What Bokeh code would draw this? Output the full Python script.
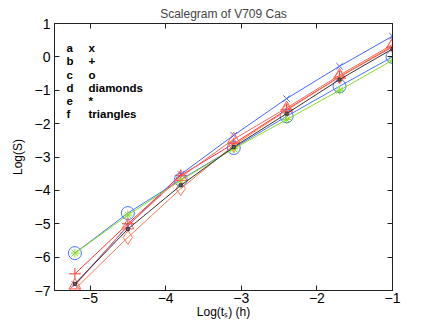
from bokeh.plotting import figure
from bokeh.models import LinearAxis, Range1d, FixedTicker, Title
from bokeh.core.properties import value
from bokeh.embed import file_html
from bokeh.resources import INLINE

log_ts = [-5.2, -4.5, -3.8, -3.1, -2.4, -1.7, -1.0]

s_a = [-6.82, -5.07, -3.52, -2.35, -1.25, -0.28, 0.62]   # x, blue
s_b = [-6.50, -5.00, -3.55, -2.60, -1.58, -0.60, 0.30]   # +, red
s_c = [-5.88, -4.68, -3.68, -2.73, -1.78, -0.88, 0.00]   # o, blue
s_d = [-6.96, -5.41, -3.95, -2.65, -1.60, -0.60, 0.33]   # diamonds, salmon
s_e = [-5.88, -4.74, -3.70, -2.75, -1.88, -1.00, -0.10]  # *, green
s_f = [-6.85, -5.05, -3.60, -2.47, -1.53, -0.55, 0.37]   # triangles, salmon
s_k = [-6.80, -5.16, -3.85, -2.70, -1.70, -0.68, 0.24]   # black

key_letters = ["a", "b", "c", "d", "e", "f"]
key_markers = ["x", "+", "o", "diamonds", "*", "triangles"]
key_x1 = [-5.31] * 6
key_x2 = [-5.02] * 6
key_y = [0.27, -0.13, -0.55, -0.94, -1.31, -1.72]

FONT = "Liberation Sans"

p = figure(frame_width=338, frame_height=267, output_backend="svg",
           toolbar_location=None,
           x_range=Range1d(-5.47, -1.0), y_range=Range1d(-7, 1),
           min_border_left=54, min_border_right=33, min_border_top=23,
           min_border_bottom=27)
p.title = Title(text="Scalegram of V709 Cas", align="center", text_font=FONT,
                text_font_size="12px", text_font_style="normal", standoff=6,
                offset=0)
p.grid.visible = False
p.outline_line_color = "#222222"
p.background_fill_color = "white"
p.border_fill_color = "white"

series = [
    (s_a, "#4466ff", "x", 9, None),
    (s_b, "#ff3333", "cross", 12, None),
    (s_c, "#4477ff", "circle", 13, None),
    (s_d, "#ff7755", "diamond", 14, None),
    (s_e, "#88dd22", "asterisk", 9, None),
    (s_f, "#ff6655", "triangle", 12, None),
    (s_k, "#333333", "square", 3, "#666666"),
]
for ys, col, mk, sz, fill in series:
    p.line(log_ts, ys, line_color=col, line_width=1)
    p.scatter(log_ts, ys, marker=mk, size=sz, line_color=col,
              fill_color=fill, fill_alpha=1.0 if fill else 0.0, line_width=1)

p.text(key_x1, key_y, text=key_letters, text_font=value(FONT),
       text_font_size="11.5px", text_font_style="bold", text_baseline="middle",
       text_color="black")
p.text(key_x2, key_y, text=key_markers, text_font=value(FONT),
       text_font_size="11.5px", text_font_style="bold", text_baseline="middle",
       text_color="black")

xt = FixedTicker(ticks=[-5, -4, -3, -2, -1])
yt = FixedTicker(ticks=[-7, -6, -5, -4, -3, -2, -1, 0, 1])
labels = {-5: "\u22125", -4: "\u22124", -3: "\u22123", -2: "\u22122", -1: "\u22121",
          -6: "\u22126", -7: "\u22127", 0: "0", 1: "1"}

for ax in p.xaxis:
    ax.ticker = xt
    ax.axis_label = "Log(t\u209b) (h)"
for ax in p.yaxis:
    ax.ticker = yt
    ax.axis_label = "Log(S)"

def style(ax, show_labels):
    ax.major_tick_in = 5
    ax.major_tick_out = 0
    ax.minor_tick_in = 0
    ax.minor_tick_out = 0
    ax.axis_line_color = "#222222"
    ax.major_tick_line_color = "#222222"
    ax.major_label_text_font = FONT
    ax.major_label_text_font_size = "14px"
    ax.major_label_text_color = "black"
    ax.axis_label_text_font = FONT
    ax.axis_label_text_font_size = "12px"
    ax.axis_label_text_font_style = "normal"
    ax.axis_label_text_color = "black"
    ax.major_label_overrides = labels
    if not show_labels:
        ax.major_label_text_font_size = "1px"
        ax.major_label_overrides = {k: "" for k in labels}

style(p.xaxis[0], True)
style(p.yaxis[0], True)
p.xaxis[0].axis_label_standoff = -1
p.xaxis[0].major_label_standoff = 2
p.yaxis[0].axis_label_standoff = 7
p.yaxis[0].major_label_standoff = 4

top = LinearAxis(ticker=xt)
right = LinearAxis(ticker=yt)
style(top, False)
style(right, False)
top.major_label_standoff = 0
right.major_label_standoff = 0
p.add_layout(top, "above")
p.add_layout(right, "right")

open("out.html", "w").write(file_html(p, INLINE))
